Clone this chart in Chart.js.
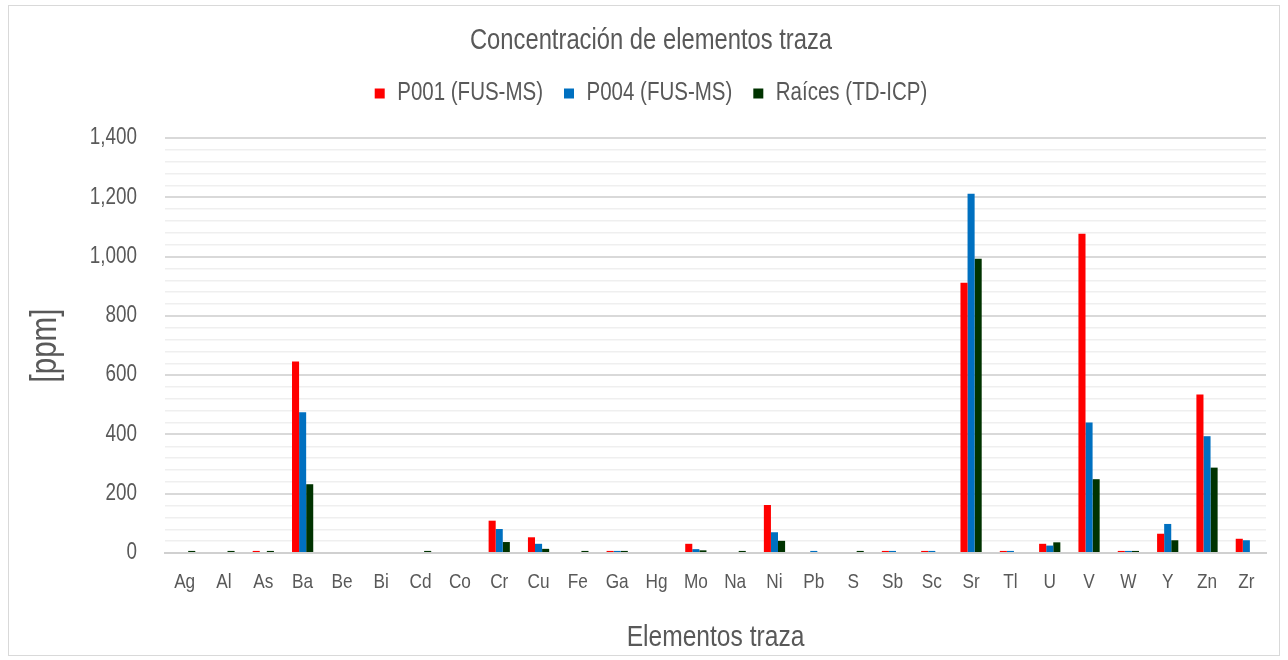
<!DOCTYPE html>
<html>
<head>
<meta charset="utf-8">
<script src="https://cdn.jsdelivr.net/npm/chart.js@4/dist/chart.umd.min.js"></script>
<style>
  html, body { margin: 0; padding: 0; background: #fff; }
  #frame {
    position: absolute; left: 8px; top: 5px;
    width: 1272px; height: 651px;
    border: 1px solid #d9d9d9; box-sizing: border-box;
  }
  #chart { display: block; }
</style>
</head>
<body>
<div id="frame"><canvas id="chart" width="1270" height="649"></canvas></div>
<script>
// elementos analizados
const elementos = ['Ag', 'Al', 'As', 'Ba', 'Be', 'Bi', 'Cd', 'Co', 'Cr', 'Cu', 'Fe', 'Ga', 'Hg', 'Mo',
  'Na', 'Ni', 'Pb', 'S', 'Sb', 'Sc', 'Sr', 'Tl', 'U', 'V', 'W', 'Y', 'Zn', 'Zr'];

// concentraciones en ppm
const p001 = [0, 0, 7, 646, 0, 0, 0, 0, 109, 53, 0, 7, 0, 31,
  0, 162, 0, 0, 7, 7, 912, 7, 31, 1077, 7, 65, 535, 48];
const p004 = [0, 0, 0, 475, 0, 0, 0, 0, 81, 31, 0, 7, 0, 13,
  0, 70, 7, 0, 7, 7, 1212, 7, 25, 440, 7, 98, 394, 43];
const raices = [7, 7, 7, 232, 0, 0, 7, 0, 37, 14, 7, 7, 0, 9,
  7, 41, 0, 7, 0, 0, 993, 0, 36, 249, 7, 43, 288, 0];

const ejeY = { min: 0, max: 1400, paso: 40, pasoEtiqueta: 200 };

const FONT = "'Liberation Sans', Arial, sans-serif";
const GRIS = '#595959';

// no hay Arial Narrow: el texto se comprime en horizontal
const ANCHO = 0.82;
const canvas = document.getElementById('chart');
const g = canvas.getContext('2d');
const fillOrig = g.fillText.bind(g);
const measureOrig = g.measureText.bind(g);
g.fillText = (t, x, y, max) => {
  g.save();
  g.translate(x, y);
  g.scale(ANCHO, 1);
  if (max === undefined) fillOrig(t, 0, 0);
  else fillOrig(t, 0, 0, max / ANCHO);
  g.restore();
};
g.measureText = t => {
  const m = measureOrig(t);
  return {
    width: m.width * ANCHO,
    actualBoundingBoxAscent: m.actualBoundingBoxAscent,
    actualBoundingBoxDescent: m.actualBoundingBoxDescent,
    actualBoundingBoxLeft: m.actualBoundingBoxLeft * ANCHO,
    actualBoundingBoxRight: m.actualBoundingBoxRight * ANCHO
  };
};

// aire extra entre la leyenda y el área de datos
const espacioLeyenda = {
  id: 'espacioLeyenda',
  beforeLayout(chart) {
    const leyenda = chart.legend;
    if (!leyenda || leyenda._conEspacio) return;
    const fitOrig = leyenda.fit;
    leyenda.fit = function () {
      fitOrig.call(this);
      this.height += 22;
    };
    leyenda._conEspacio = true;
  }
};

const esMayor = v => v % ejeY.pasoEtiqueta === 0;

new Chart(canvas, {
  type: 'bar',
  data: {
    labels: elementos,
    datasets: [
      { label: 'P001 (FUS-MS)', data: p001, backgroundColor: '#ff0000' },
      { label: 'P004 (FUS-MS)', data: p004, backgroundColor: '#0070c0' },
      { label: 'Raíces (TD-ICP)', data: raices, backgroundColor: '#003300' }
    ]
  },
  plugins: [espacioLeyenda],
  options: {
    responsive: false,
    animation: false,
    datasets: { bar: { categoryPercentage: 0.54, barPercentage: 1.0 } },
    layout: { padding: { left: 27, right: 13, top: 0, bottom: 0 } },
    plugins: {
      title: {
        display: true,
        text: 'Concentración de elementos traza',
        color: GRIS,
        font: { family: FONT, size: 29, weight: 'normal', lineHeight: 1 },
        padding: { top: 20, bottom: 5 }
      },
      legend: {
        position: 'top',
        labels: {
          color: GRIS,
          font: { family: FONT, size: 25 },
          boxWidth: 10, boxHeight: 10,
          padding: 21
        }
      },
      tooltip: { enabled: false }
    },
    scales: {
      x: {
        afterFit: s => { s.height = 102; },
        grid: { display: false },
        border: { color: '#d0d0d0', width: 2 },
        ticks: { color: GRIS, font: { family: FONT, size: 21 }, padding: 9, maxRotation: 0, autoSkip: false },
        title: {
          display: true, text: 'Elementos traza', color: GRIS,
          font: { family: FONT, size: 30, lineHeight: 1 }, padding: { top: 0, bottom: 2 }
        }
      },
      y: {
        min: ejeY.min, max: ejeY.max,
        afterFit: s => { s.width = 129; },
        border: { display: false },
        grid: {
          color: ctx => (esMayor(ctx.tick.value) ? '#d9d9d9' : '#efefef'),
          lineWidth: ctx => (esMayor(ctx.tick.value) ? 2 : 1.5),
          drawTicks: false
        },
        ticks: {
          stepSize: ejeY.paso,
          autoSkip: false,
          color: GRIS,
          font: { family: FONT, size: 23 },
          padding: 28,
          callback: v => (esMayor(v) ? v.toLocaleString('en-US') : '')
        },
        title: {
          display: true, text: '[ppm]', color: GRIS,
          font: { family: FONT, size: 36, lineHeight: 1 }, padding: { top: -8, bottom: 0 }
        }
      }
    }
  }
});
</script>
</body>
</html>
